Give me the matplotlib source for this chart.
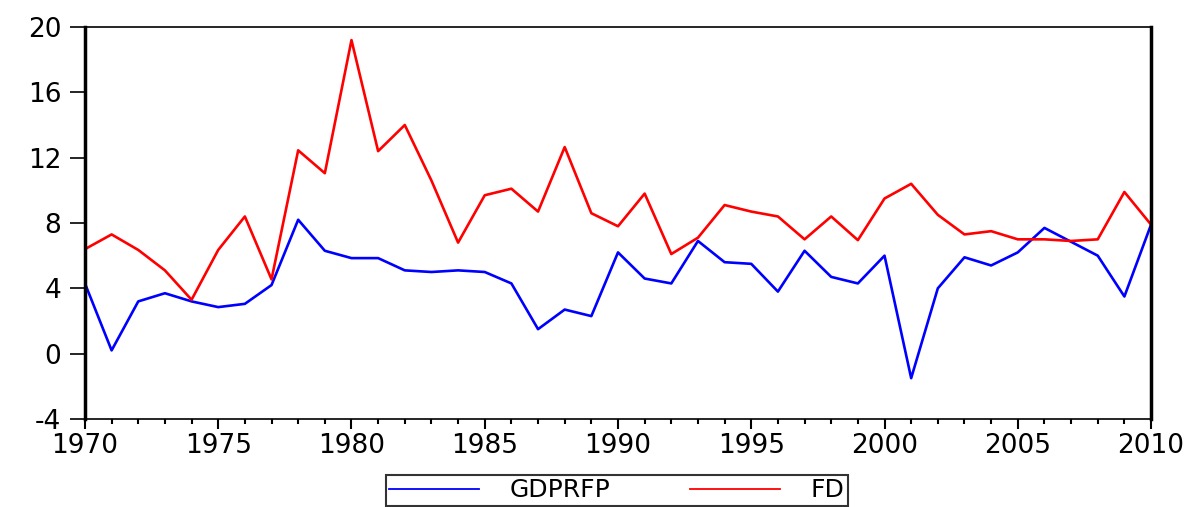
import matplotlib
matplotlib.use("Agg")
import matplotlib.pyplot as plt
from matplotlib.ticker import MultipleLocator

years = list(range(1970, 2011))
gdprfp = [4.3, 0.2, 3.2, 3.7, 3.2, 2.85, 3.05, 4.2, 8.2, 6.3,
          5.85, 5.85, 5.1, 5.0, 5.1, 5.0, 4.3, 1.5, 2.7, 2.3,
          6.2, 4.6, 4.3, 6.9, 5.6, 5.5, 3.8, 6.3, 4.7, 4.3,
          6.0, -1.5, 4.0, 5.9, 5.4, 6.2, 7.7, 6.85, 6.0, 3.5,
          7.9]
fd = [6.4, 7.3, 6.35, 5.1, 3.3, 6.35, 8.4, 4.55, 12.45, 11.05,
      19.2, 12.4, 14.0, 10.6, 6.8, 9.7, 10.1, 8.7, 12.65, 8.6,
      7.8, 9.8, 6.1, 7.1, 9.1, 8.7, 8.4, 7.0, 8.4, 6.95,
      9.5, 10.4, 8.5, 7.3, 7.5, 7.0, 7.0, 6.9, 7.0, 9.9,
      7.9]
yticks = [-4, 0, 4, 8, 12, 16, 20]
xticks = [1970, 1975, 1980, 1985, 1990, 1995, 2000, 2005, 2010]

plt.rcParams['font.family'] = ['DejaVu Sans']
plt.rcParams['axes.unicode_minus'] = False

fig = plt.figure(figsize=(12, 5.07), dpi=100)
ax = fig.add_axes([0.0708, 0.1736, 0.8884, 0.7731])

l1, = ax.plot(years, gdprfp, color='#0000ff', lw=1.9, label='GDPRFP')
l2, = ax.plot(years, fd, color='#ff0000', lw=1.9, label='FD')

ax.set_xlim(1970, 2010)
ax.set_ylim(-4, 20)
ax.set_yticks(yticks)
ax.set_xticks(xticks)
ax.xaxis.set_minor_locator(MultipleLocator(1))

ax.tick_params(axis='y', which='major', direction='out', length=11, width=1.2,
               labelsize=19, pad=6, right=False)
ax.tick_params(axis='x', which='major', direction='out', length=7, width=1.5,
               labelsize=19, pad=3, top=False)
ax.tick_params(axis='x', which='minor', direction='out', length=3.5, width=1.5, top=False)

ax.spines['left'].set_linewidth(2.5)
ax.spines['right'].set_linewidth(2.5)
ax.spines['top'].set_linewidth(1.2)
ax.spines['bottom'].set_linewidth(1.2)

leg = fig.legend(handles=[l1, l2], labels=['GDPRFP', 'FD'], loc='upper center',
                 bbox_to_anchor=(0.514, 0.064), ncol=2, fontsize=18,
                 frameon=True, fancybox=False, edgecolor='black',
                 handlelength=3.6, columnspacing=3.2, handletextpad=1.2,
                 borderpad=0.15, borderaxespad=0.0)
leg.get_frame().set_linewidth(1.5)
for h in leg.get_lines():
    h.set_linewidth(1.3)

fig.savefig('out.png', dpi=100)
